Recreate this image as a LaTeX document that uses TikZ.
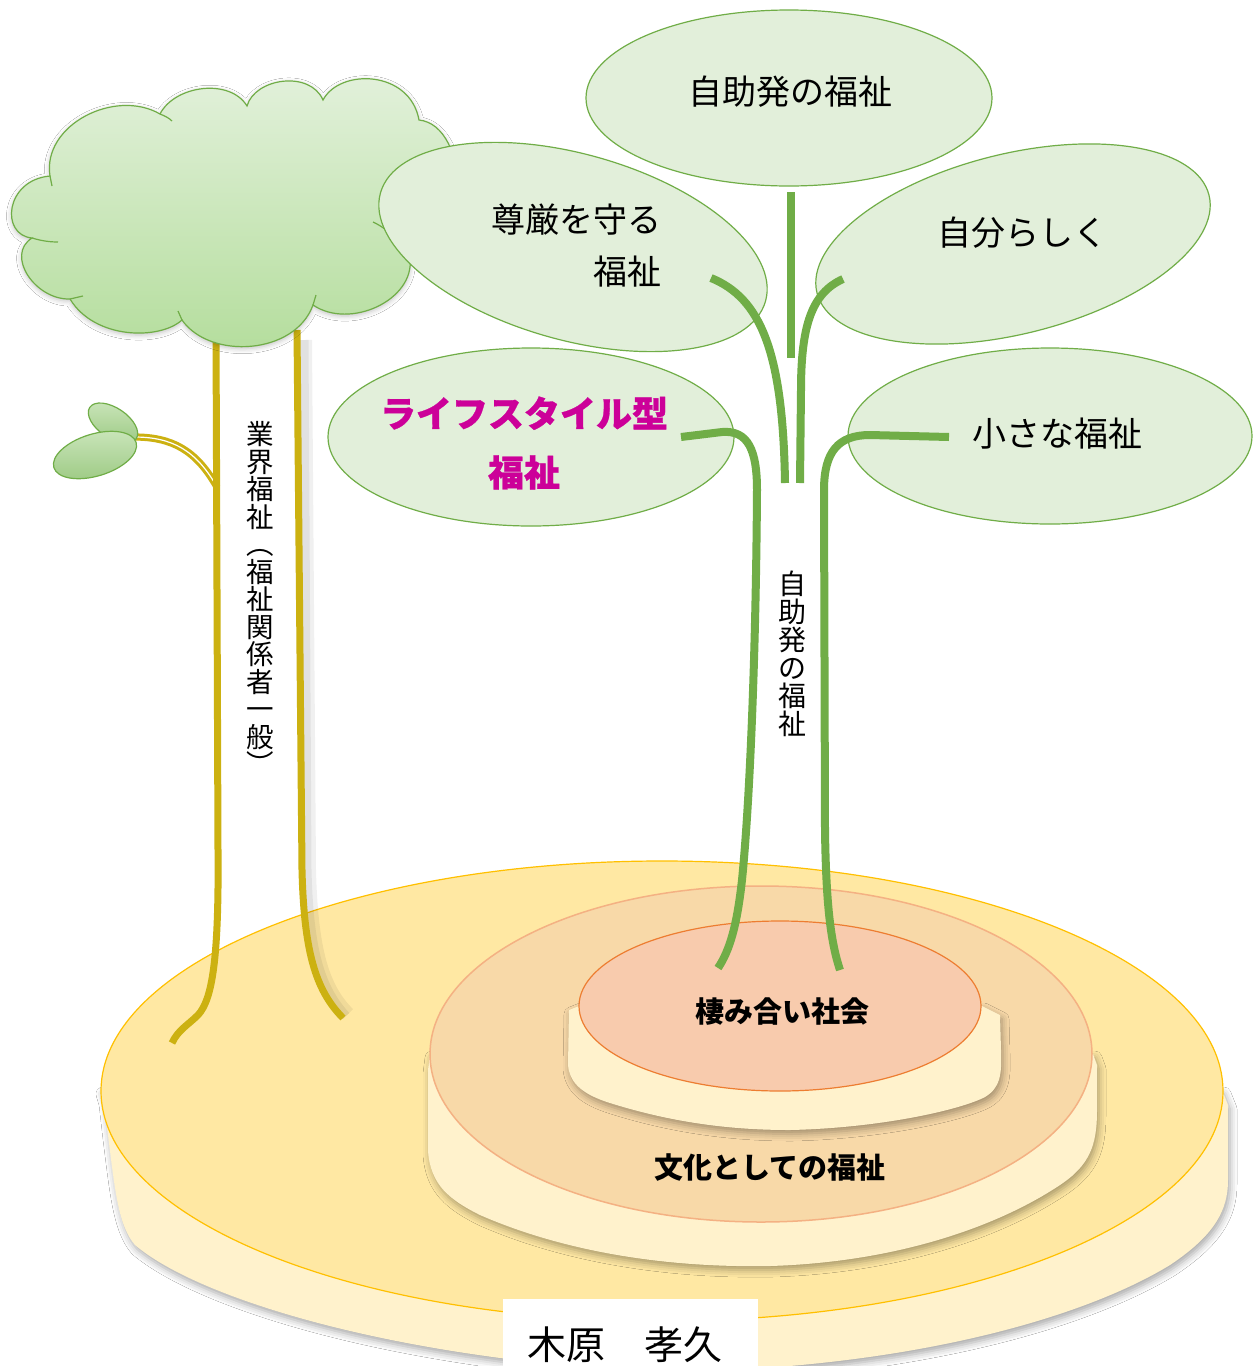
\documentclass[tikz,border=0pt]{standalone}
\usepackage{fontspec}
\newfontfamily\jp{Noto Sans CJK JP}
\usetikzlibrary{shadows.blur}

\definecolor{leafFill}{HTML}{E2EFDA}
\definecolor{leafLine}{HTML}{70AD47}
\definecolor{stemGreen}{HTML}{70AD47}
\definecolor{gold}{RGB}{204,177,17}
\definecolor{baseTop}{HTML}{FFE8A3}
\definecolor{baseLine}{HTML}{FFC000}
\definecolor{cream}{HTML}{FFF2CC}
\definecolor{midTop}{HTML}{F8D9A8}
\definecolor{midLine}{HTML}{F4B183}
\definecolor{coreTop}{HTML}{F8CBAD}
\definecolor{coreLine}{HTML}{ED7D31}
\definecolor{magentaTxt}{HTML}{CC0099}
\definecolor{cloudTop}{HTML}{E3F1DC}
\definecolor{cloudBot}{HTML}{B3DD9B}
\definecolor{budTop}{HTML}{C8E4B8}
\definecolor{budBot}{HTML}{9DCA84}

\tikzset{
  leaf/.style={fill=leafFill, draw=leafLine, line width=1.2pt},
  stalk/.style={draw=stemGreen, line width=8pt},
  trunk/.style={draw=gold, line width=7pt},
  layer/.style={fill=cream, blur shadow={shadow xshift=2pt, shadow yshift=-4pt,
      shadow blur radius=7pt, shadow opacity=35}},
  lbl/.style={font=\jp\fontsize{34}{52}\selectfont, inner sep=0pt},
  vlbl/.style={font=\jp\fontsize{#1}{#1}\selectfont, align=center, inner sep=0pt},
  disclbl/.style={font=\jp\bfseries\fontsize{29}{34}\selectfont, inner sep=0pt},
  heavylbl/.style={font=\jp\bfseries\addfontfeature{FakeBold=0.8}\fontsize{36}{59}\selectfont,
      align=center, inner sep=0pt},
}

\begin{document}
\begin{tikzpicture}[x=1pt, y=-1pt]
\fill[white] (0,0) rectangle (1258,1366);
\useasboundingbox (0,0) rectangle (1258,1366);

% ---------- base: three stacked discs ----------
\path[layer] (101,1090) -- (104,1100) -- (108,1135)
  .. controls (115,1190) and (118,1225) .. (135,1245)
  .. controls (200,1300) and (400,1360) .. (660,1372)
  .. controls (900,1370) and (1080,1320) .. (1170,1265)
  .. controls (1215,1235) and (1228,1210) .. (1228,1180)
  -- (1228,1105) -- (1222,1090) -- cycle;
\draw[fill=baseTop, draw=baseLine, line width=1.2pt] (662,1091) ellipse [x radius=561, y radius=230];

\path[layer] (430,1054) -- (428,1070) -- (428,1150)
  .. controls (430,1185) and (450,1200) .. (480,1215)
  .. controls (560,1250) and (660,1268) .. (770,1266)
  .. controls (900,1262) and (1000,1225) .. (1060,1185)
  .. controls (1090,1165) and (1097,1145) .. (1097,1110)
  -- (1097,1065) -- (1093,1054) -- cycle;
\draw[fill=midTop, draw=midLine, line width=1.5pt] (761,1054) ellipse [x radius=331, y radius=168];

\path[layer] (579,1006) -- (569,1010) -- (568,1065)
  .. controls (570,1085) and (585,1095) .. (610,1103)
  .. controls (680,1125) and (740,1130) .. (790,1130)
  .. controls (880,1128) and (960,1110) .. (985,1097)
  .. controls (1000,1088) and (1002,1075) .. (1001,1050)
  -- (1000,1015) -- (982,1006) -- cycle;
\draw[fill=coreTop, draw=coreLine, line width=1.2pt] (780,1006) ellipse [x radius=201, y radius=85];

\node[disclbl] (core) at (782,1012) {棲み合い社会};
\node[disclbl] (culture) at (770,1168) {文化としての福祉};

% ---------- the old tree: trunk, bud and crown ----------
\draw[gold, line width=3pt, double=white, double distance=1.2pt]
  (217,487) .. controls (196,450) and (172,437) .. (134,437);
\draw[trunk] (216,330) -- (218,850)
  .. controls (219,960) and (212,1000) .. (198,1015)
  .. controls (188,1025) and (178,1030) .. (172,1043);
% soft shadow beside the right trunk
\draw[black, opacity=0.06, line width=14pt] (305,340) -- (309,870)
  .. controls (311,950) and (322,988) .. (348,1014);
\draw[black, opacity=0.06, line width=9pt] (304,340) -- (307,870)
  .. controls (309,950) and (320,988) .. (346,1016);
\draw[trunk] (297,330) -- (302,870)
  .. controls (304,950) and (315,990) .. (343,1018);

\draw[top color=budTop, bottom color=budBot, draw=leafLine, line width=1.2pt]
  [rotate around={-34:(113,423)}] (113,423) ellipse [x radius=28, y radius=15];
\draw[top color=budTop, bottom color=budBot, draw=leafLine, line width=1.2pt]
  [rotate around={17:(95,455)}] (95,455) ellipse [x radius=43, y radius=21];

\path[top color=cloudTop, bottom color=cloudBot,
      blur shadow={shadow xshift=0pt, shadow yshift=-2pt, shadow blur radius=5pt, shadow opacity=25}]
  (50,176) .. controls (42,125) and (115,88) .. (160,114)
  .. controls (175,85) and (230,78) .. (247,106)
  .. controls (255,78) and (310,70) .. (323,100)
  .. controls (340,68) and (410,70) .. (419,120)
  .. controls (470,125) and (475,255) .. (410,258)
  .. controls (415,300) and (350,330) .. (313,305)
  .. controls (295,355) and (210,360) .. (182,320)
  .. controls (160,340) and (95,340) .. (70,299)
  .. controls (35,300) and (5,255) .. (32,238)
  .. controls (0,235) and (5,180) .. (50,176) -- cycle;
\draw[leafLine, line width=1.2pt]
  (50,176) .. controls (42,125) and (115,88) .. (160,114)
  .. controls (175,85) and (230,78) .. (247,106)
  .. controls (255,78) and (310,70) .. (323,100)
  .. controls (340,68) and (410,70) .. (419,120)
  .. controls (470,125) and (475,255) .. (410,258)
  .. controls (415,300) and (350,330) .. (313,305)
  .. controls (295,355) and (210,360) .. (182,320)
  .. controls (160,340) and (95,340) .. (70,299)
  .. controls (35,300) and (5,255) .. (32,238)
  .. controls (0,235) and (5,180) .. (50,176) -- cycle;
\draw[leafLine, line width=1.2pt]
  (160,114) .. controls (165,116) and (169,118) .. (172,121)
  (182,320) -- (178,311)
  (313,305) -- (316,295)
  (70,299) -- (83,296)
  (32,238) .. controls (42,241) and (50,242) .. (58,242)
  (50,176) -- (52,186)
  (408,255) .. controls (398,240) and (388,229) .. (373,222);

\node[vlbl=27.5] (trade) at (260,598)
  {業\\界\\福\\祉\\︵\\福\\祉\\関\\係\\者\\一\\般\\︶};

% ---------- the new plant: leaves and stalks ----------
\draw[leaf] (789,98) ellipse [x radius=203, y radius=88];
\draw[leaf, rotate around={-15.7:(573,247)}] (573,247) ellipse [x radius=200, y radius=93];
\draw[leaf, rotate around={14:(1013,244)}] (1013,244) ellipse [x radius=202, y radius=90];
\draw[leaf] (531,437) ellipse [x radius=203, y radius=89];
\draw[leaf] (1050,436) ellipse [x radius=202, y radius=88];

\node[lbl] (selfhelp) at (790,92) {自助発の福祉};
\node[lbl, align=right, anchor=east] (dignity) at (662,246) {尊厳を守る\\福祉};
\node[lbl] (ownway) at (1022,233) {自分らしく};
\node[lbl] (small) at (1057,434) {小さな福祉};
\node[heavylbl, text=magentaTxt] (lifestyle) at (524,443) {ライフスタイル型\\福祉};

\coordinate (topBase) at (791,192);
\coordinate (topEnd) at (791,358);
\draw[stalk] (topBase) -- (topEnd);
\draw[stalk] (711,278) .. controls (760,298) and (783,350) .. (785,483);
\draw[stalk] (843,279) .. controls (812,293) and (801,325) .. (801,390) -- (800,483);
\draw[stalk] (681,437) -- (722,432) .. controls (748,430) and (757,450) .. (757,490)
  .. controls (756,650) and (750,800) .. (742,880)
  .. controls (737,925) and (730,950) .. (718,968);
\draw[stalk] (949,437) -- (870,435) .. controls (838,435) and (824,452) .. (824,490)
  -- (825,830) .. controls (826,900) and (830,940) .. (840,970);

\node[vlbl=28] (stemlbl) at (792,654) {自\\助\\発\\の\\福\\祉};

% ---------- author ----------
\fill[white] (503,1299) rectangle (758,1372);
\node[font=\jp\fontsize{39}{44}\selectfont, inner sep=0pt] (author) at (625,1345) {木原　孝久};
\end{tikzpicture}
\end{document}
